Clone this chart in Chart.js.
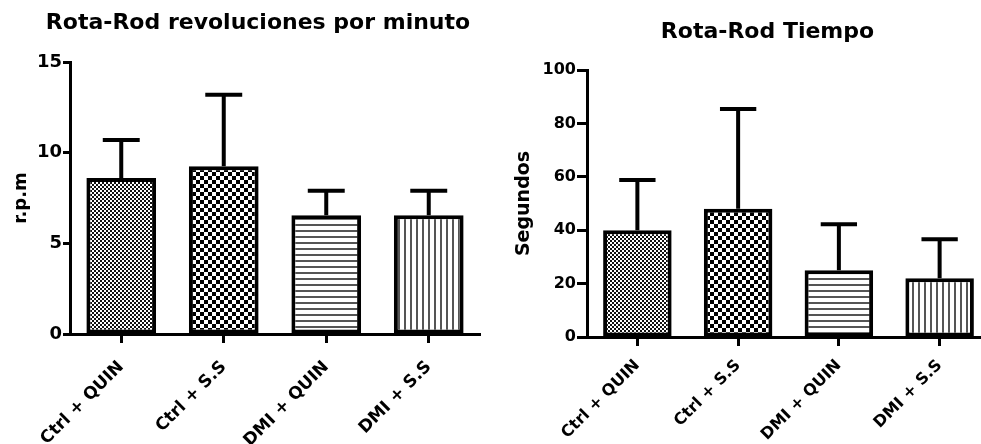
<!DOCTYPE html>
<html><head><meta charset="utf-8">
<script src="https://cdn.jsdelivr.net/npm/chart.js@4.4.0/dist/chart.umd.min.js"></script>
<style>
html,body{margin:0;padding:0;background:#fff;overflow:hidden;width:981px;height:444px;position:relative;}
canvas{position:absolute;top:0;}
#c1{left:0;}
#c2{left:490px;}
</style></head><body>
<canvas id="c1" width="490" height="444"></canvas>
<canvas id="c2" width="500" height="444"></canvas>
<script>
// ---- data ----
const categories = ['Ctrl + QUIN', 'Ctrl + S.S', 'DMI + QUIN', 'DMI + S.S'];
const rpmMeans = [8.6, 9.25, 6.55, 6.55];
const rpmSD = [2.1, 3.95, 1.35, 1.35];
const timeMeans = [40, 48, 25, 22];
const timeSD = [18.8, 37.4, 17.2, 14.6];
const rpmTitle = 'Rota-Rod revoluciones por minuto';
const timeTitle = 'Rota-Rod Tiempo';
const rpmAxisTitle = 'r.p.m';
const timeAxisTitle = 'Segundos';

const FONT = '"DejaVu Sans", sans-serif';

function makePattern(kind) {
  const c = document.createElement('canvas');
  const g = c.getContext('2d');
  let s = 4;
  if (kind === 'fine') s = 4;
  if (kind === 'coarse') s = 8;
  if (kind === 'h' || kind === 'v') s = 6;
  c.width = s; c.height = s;
  g.fillStyle = '#fff'; g.fillRect(0, 0, s, s);
  if (kind === 'fine') { g.fillStyle = '#111'; g.fillRect(0, 0, 2, 2); g.fillRect(2, 2, 2, 2); }
  if (kind === 'coarse') { g.fillStyle = '#000'; g.fillRect(0, 0, 4, 4); g.fillRect(4, 4, 4, 4); }
  if (kind === 'h') { g.fillStyle = '#555'; g.fillRect(0, 2, s, 2); }
  if (kind === 'v') { g.fillStyle = '#555'; g.fillRect(2, 0, 2, s); }
  return g.createPattern(c, 'repeat');
}
const fills = [makePattern('fine'), makePattern('coarse'), makePattern('h'), makePattern('v')];

const panelTitle = {
  id: 'panelTitle',
  afterDraw(chart, args, o) {
    const ctx = chart.ctx;
    ctx.save();
    ctx.font = 'bold ' + o.size + 'px ' + FONT;
    ctx.fillStyle = '#000';
    ctx.textAlign = 'center';
    ctx.textBaseline = 'alphabetic';
    ctx.fillText(o.text, o.x, o.y);
    ctx.restore();
  }
};

const errorBars = {
  id: 'errorBars',
  afterDatasetsDraw(chart) {
    const ctx = chart.ctx, meta = chart.getDatasetMeta(0), ds = chart.data.datasets[0], y = chart.scales.y;
    ctx.save();
    ctx.strokeStyle = '#000';
    ctx.lineWidth = 4;
    meta.data.forEach((bar, i) => {
      const top = y.getPixelForValue(ds.data[i] + ds.sd[i]);
      const half = bar.width * 0.265;
      ctx.beginPath();
      ctx.moveTo(bar.x, bar.y);
      ctx.lineTo(bar.x, top);
      ctx.moveTo(bar.x - half, top);
      ctx.lineTo(bar.x + half, top);
      ctx.stroke();
    });
    ctx.restore();
  }
};

function build(id, cfg) {
  return new Chart(document.getElementById(id), {
    type: 'bar',
    data: {
      labels: categories,
      datasets: [{
        data: cfg.means, sd: cfg.sd,
        backgroundColor: fills, borderColor: '#000', borderWidth: 4, borderSkipped: false,
        barPercentage: 0.68, categoryPercentage: 1
      }]
    },
    options: {
      responsive: false, animation: false, devicePixelRatio: 1,
      layout: { padding: { top: cfg.top, right: cfg.padR, left: 0, bottom: 0 } },
      plugins: {
        legend: { display: false }, tooltip: { enabled: false }, title: { display: false },
        panelTitle: { text: cfg.title, x: cfg.titleX, y: cfg.titleY, size: cfg.titleSize }
      },
      scales: {
        x: {
          offset: true,
          grid: { display: true, drawOnChartArea: false, drawTicks: true, tickLength: 9, tickWidth: 3, tickColor: '#000', offset: false },
          border: { display: true, color: '#000', width: 3 },
          ticks: { color: '#000', font: { family: FONT, weight: 'bold', size: cfg.xFont }, minRotation: 45, maxRotation: 45, padding: cfg.xPad, autoSkip: false },
          afterFit: s => { s.height = cfg.xHeight; }
        },
        y: {
          min: 0, max: cfg.max,
          ticks: { stepSize: cfg.step, color: '#000', font: { family: FONT, weight: 'bold', size: cfg.yFont }, padding: 1 },
          grid: { display: true, drawOnChartArea: false, drawTicks: true, tickLength: cfg.yTick, tickWidth: 3, tickColor: '#000' },
          border: { display: true, color: '#000', width: 3 },
          title: { display: true, text: cfg.axisTitle, color: '#000', font: { family: FONT, weight: 'bold', size: cfg.axisFont }, padding: { top: cfg.axisPad, bottom: 0 } },
          afterFit: s => { s.width = cfg.yWidth; }
        }
      }
    },
    plugins: [panelTitle, errorBars]
  });
}

build('c1', {
  means: rpmMeans, sd: rpmSD, max: 15, step: 5,
  top: 62, padR: 10, yWidth: 70, xHeight: 110,
  title: rpmTitle, titleX: 258, titleY: 29, titleSize: 22,
  axisTitle: rpmAxisTitle, axisFont: 18, axisPad: 11,
  xFont: 17, yFont: 18, xPad: 14, yTick: 7
});
build('c2', {
  means: timeMeans, sd: timeSD, max: 100, step: 20,
  top: 70, padR: 0, yWidth: 97, xHeight: 107,
  title: timeTitle, titleX: 277.5, titleY: 38, titleSize: 22,
  axisTitle: timeAxisTitle, axisFont: 19, axisPad: 23,
  xFont: 16, yFont: 16, xPad: 10, yTick: 10
});
</script>
</body></html>
